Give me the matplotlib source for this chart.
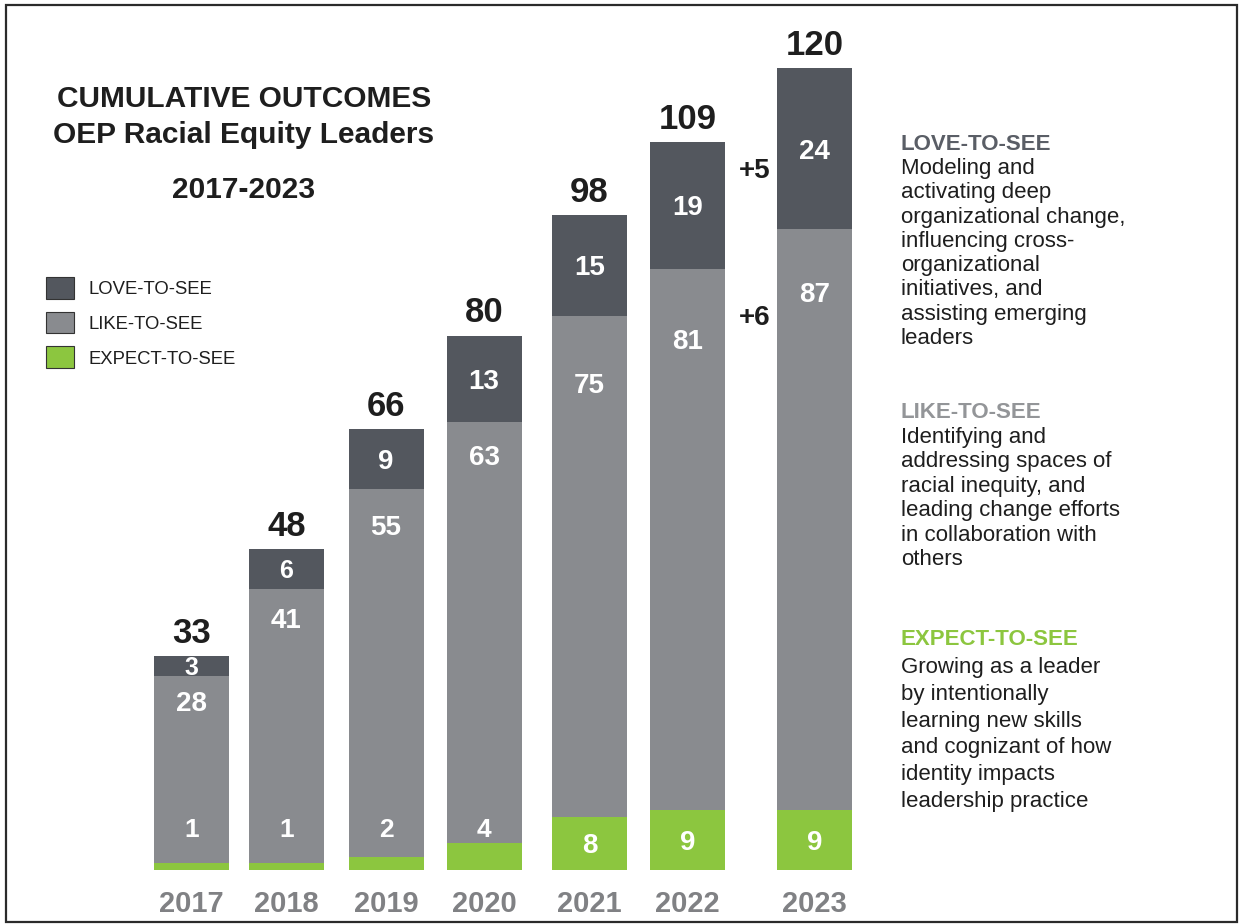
import matplotlib.pyplot as plt
from matplotlib.patches import Rectangle

years = ["2017", "2018", "2019", "2020", "2021", "2022", "2023"]
expect = [1, 1, 2, 4, 8, 9, 9]
like = [28, 41, 55, 63, 75, 81, 87]
love = [3, 6, 9, 13, 15, 19, 24]
totals = [33, 48, 66, 80, 98, 109, 120]

series_names = ["LOVE-TO-SEE", "LIKE-TO-SEE", "EXPECT-TO-SEE"]
title_lines = ["CUMULATIVE OUTCOMES", "OEP Racial Equity Leaders", "2017-2023"]
love_desc = ["Modeling and", "activating deep", "organizational change,",
             "influencing cross-", "organizational", "initiatives, and",
             "assisting emerging", "leaders"]
like_desc = ["Identifying and", "addressing spaces of", "racial inequity, and",
             "leading change efforts", "in collaboration with", "others"]
expect_desc = ["Growing as a leader", "by intentionally", "learning new skills",
               "and cognizant of how", "identity impacts", "leadership practice"]

LOVE_C = "#53575e"
LIKE_C = "#898b8f"
EXP_C = "#8cc63f"
YEAR_C = "#808184"
INK = "#1e1e1e"

plt.rcParams["font.family"] = ["Liberation Sans", "DejaVu Sans"]

W, H = 1241, 924
PX = 6.68          # pixels per unit on the value axis
BASE = 870         # baseline of bars, pixels from top
SLOT = 98.0        # pixels per x unit
X0 = 191.5         # pixel centre of first bar

fig = plt.figure(figsize=(W / 100, H / 100), dpi=100)
ax = fig.add_axes([0, (H - BASE) / H, 1, BASE / H])
ax.set_ylim(0, BASE / PX)
ax.set_xlim(-X0 / SLOT, (W - X0) / SLOT)
ax.axis("off")

# bar positions (2023 sits a little further out to make room for the +5/+6)
xpos = [0, 0.969, 1.985, 2.985, 4.061, 5.061, 6.357]
bw = 0.765

bottom_like = expect
bottom_love = [e + l for e, l in zip(expect, like)]
tops = [b + v for b, v in zip(bottom_love, love)]

ax.bar(xpos, expect, width=bw, color=EXP_C, linewidth=0)
ax.bar(xpos, like, bottom=bottom_like, width=bw, color=LIKE_C, linewidth=0)
ax.bar(xpos, love, bottom=bottom_love, width=bw, color=LOVE_C, linewidth=0)


def cap(size):
    # cap height in data units for a font size in points
    return size * 100 / 72 * 0.716 / PX


def centred(x, yc, s, size, color="white"):
    ax.text(x, yc - cap(size) / 2, s, ha="center", va="baseline",
            fontsize=size, fontweight="bold", color=color)


like_drop = [3.7, 4.3, 5.4, 4.9, 10.1, 10.5, 9.5]

for i, x in enumerate(xpos):
    # total on top
    ax.text(x, tops[i] + 2.0, str(totals[i]), ha="center", va="baseline",
            fontsize=25, fontweight="bold", color=INK)
    # love
    centred(x, bottom_love[i] + love[i] / 2, str(love[i]),
            18 if love[i] < 8 else 20)
    # like
    centred(x, bottom_love[i] - like_drop[i], str(like[i]), 20)
    # expect
    if expect[i] < 5:
        centred(x, 6.3, str(expect[i]), 19)
    else:
        centred(x, expect[i] / 2, str(expect[i]), 20)
    # year
    ax.text(x, -6.25, years[i], ha="center", va="baseline",
            fontsize=21, fontweight="bold", color=YEAR_C)

# year-on-year change between the last two bars
dx = (xpos[5] + xpos[6]) / 2 + 0.04
ax.text(dx, (BASE - 168) / PX - cap(20) / 2, "+%d" % (love[6] - love[5]),
        ha="center", va="baseline", fontsize=20, fontweight="bold", color=INK)
ax.text(dx, (BASE - 315) / PX - cap(20) / 2, "+%d" % (like[6] - like[5]),
        ha="center", va="baseline", fontsize=20, fontweight="bold", color=INK)


def ftext(x, y, s, **kw):
    fig.text(x / W, 1 - y / H, s, **kw)


# title
for s, y in zip(title_lines, [107, 143, 198]):
    ftext(244, y, s, ha="center", va="baseline", fontsize=21.5,
          fontweight="bold", color=INK)

# legend
for name, col, (y1, y2) in zip(series_names, [LOVE_C, LIKE_C, EXP_C],
                               [(277, 299), (312, 333), (346, 368)]):
    fig.patches.append(Rectangle((46 / W, 1 - y2 / H), 28 / W, (y2 - y1) / H,
                                 transform=fig.transFigure, facecolor=col,
                                 edgecolor="#333333", linewidth=0.8))
    ftext(88, (y1 + y2) / 2 + 6.5, name, ha="left", va="baseline",
          fontsize=13.3, color=INK)

# descriptions on the right
blocks = [
    (series_names[0], "#5a5e66", love_desc, 150, 174, 24.3),
    (series_names[1], "#939598", like_desc, 418, 443, 24.4),
    (series_names[2], EXP_C, expect_desc, 645, 673, 26.8),
]
for head, col, lines, yh, y0, dy in blocks:
    ftext(901, yh, head, ha="left", va="baseline", fontsize=16,
          fontweight="bold", color=col)
    for j, line in enumerate(lines):
        ftext(901, y0 + j * dy, line, ha="left", va="baseline", fontsize=16,
              color=INK)

# frame
fig.patches.append(Rectangle((6 / W, 2 / H), 1231 / W, 917 / H,
                             transform=fig.transFigure, fill=False,
                             edgecolor="#2b2b2b", linewidth=1.6))

fig.savefig("out.png", dpi=100)
